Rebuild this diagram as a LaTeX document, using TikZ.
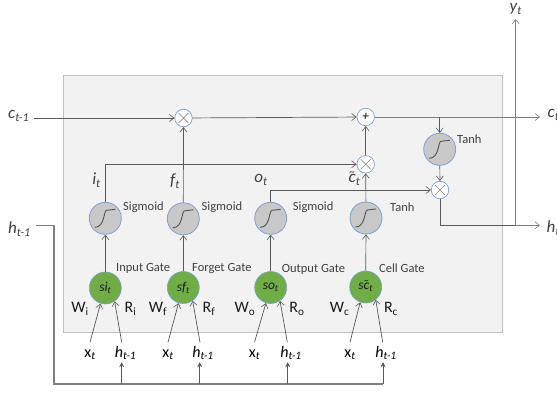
\documentclass[tikz,border=0pt]{standalone}
\usepackage{fontspec}
\setmainfont{Carlito}
\usetikzlibrary{arrows.meta}
\definecolor{panelfill}{HTML}{F2F2F2}
\definecolor{panelline}{HTML}{BFBFBF}
\definecolor{wire}{HTML}{595959}
\definecolor{wiregray}{HTML}{7F7F7F}
\definecolor{nodeedge}{HTML}{7C9FD6}
\definecolor{gategreen}{HTML}{70AD47}
\definecolor{sigfill}{HTML}{C8C8C8}
\definecolor{labelgray}{HTML}{404040}
\newcommand{\subt}[1]{\textsubscript{#1}}
\newcommand{\tildec}{{\ooalign{c\cr\hidewidth\raisebox{.4em}{\scalebox{.65}{\textasciitilde}}\hidewidth\cr}}}
\newcommand{\scurve}[1]{\draw[line width=0.9pt,color=labelgray!90] ([shift={(-10.5,9)}]#1.center) .. controls ([shift={(0,9)}]#1.center) and ([shift={(-2,-8.5)}]#1.center) .. ([shift={(1.5,-8)}]#1.center) -- ([shift={(10,-9)}]#1.center);}
\newcommand{\opx}[1]{\draw[wiregray,line width=0.5pt] ([shift={(-5,-5)}]#1.center) -- ([shift={(5,5)}]#1.center) ([shift={(-5,5)}]#1.center) -- ([shift={(5,-5)}]#1.center);}
\tikzset{
  x=1pt,y=-1pt,
  every node/.style={font=\fontsize{12.5}{14}\selectfont,inner sep=0pt,text=labelgray},
  wirearrow/.style={draw=wire,line width=0.7pt,-{Straight Barb[length=4.5pt,width=7pt,line width=0.6pt]}},
  thickwire/.style={draw=wiregray,line width=0.9pt,-{Straight Barb[length=4.5pt,width=7pt,line width=0.6pt]}},
  plainwire/.style={draw=wire,line width=0.7pt},
  bus/.style={draw=wiregray,line width=1.1pt},
  busarrow/.style={draw=wire,line width=0.7pt,-{Stealth[length=5pt,width=5pt]}},
  opnode/.style={circle,draw=nodeedge,fill=white,line width=0.7pt,minimum size=17.5pt},
  sigbox/.style={circle,draw=nodeedge,fill=sigfill,line width=0.8pt,minimum size=32pt},
  gatebox/.style={circle,draw=nodeedge,fill=gategreen,line width=0.6pt,minimum size=32pt,text=black!90,font=\fontsize{13.5}{14}\selectfont\itshape},
  varlabel/.style={font=\fontsize{17}{18}\selectfont\itshape,text=labelgray},
  weight/.style={font=\fontsize{16}{18}\selectfont,text=black!90,anchor=base},
  inlabel/.style={font=\fontsize{16}{18}\selectfont,text=black,anchor=base,text height=14.5pt,text depth=5pt},
}
\begin{document}
\begin{tikzpicture}
\useasboundingbox (0,0) rectangle (557,395);
\fill[white] (0,0) rectangle (557,395);
\draw[draw=panelline,fill=panelfill,line width=0.8pt] (63,75) rectangle (502.5,332);

% operators
\node[opnode] (m1) at (183.5,118) {};
\node[opnode] (pl) at (365.7,117) {\fontsize{13}{14}\selectfont\bfseries\itshape +};
\node[opnode] (m2) at (365.7,164.3) {};
\node[opnode] (m3) at (440,190) {};
\opx{m1}\opx{m2}\opx{m3}

% activation nodes
\node[sigbox] (sigi) at (105.3,218.3) {};
\node[sigbox] (sigf) at (183.3,218.8) {};
\node[sigbox] (sigo) at (270.7,218.3) {};
\node[sigbox] (tanc) at (366,218) {};
\node[sigbox] (tant) at (439.7,149.3) {};
\scurve{sigi}\scurve{sigf}\scurve{sigo}\scurve{tanc}\scurve{tant}

% gates
\node[gatebox] (si) at (105.3,288) {si\subt{t}};
\node[gatebox] (sf) at (183.3,287.5) {sf\subt{t}};
\node[gatebox] (so) at (270.7,287.5) {so\subt{t}};
\node[gatebox] (sc) at (365.7,287) {s\tildec\subt{t}};

% outer labels
\node[varlabel,anchor=west] (cin) at (8,116) {c\subt{t-1}};
\node[varlabel,anchor=west] (hin) at (8,229) {h\subt{t-1}};
\node[varlabel,anchor=west] (cout) at (547.5,115) {c\subt{t}};
\node[varlabel,anchor=west] (hout) at (546.5,228) {h\subt{t}};
\node[varlabel] (yout) at (515.7,9) {y\subt{t}};
\node[varlabel] at (96.5,180) {i\subt{t}};
\node[varlabel] at (175,181) {f\subt{t}};
\node[varlabel] at (261,180) {o\subt{t}};
\node[varlabel] at (354.5,180) {\tildec\subt{t}};

% text labels
\node[anchor=west] at (123,207) {Sigmoid};
\node[anchor=west] at (201.5,207) {Sigmoid};
\node[anchor=west] at (292.7,207.5) {Sigmoid};
\node[anchor=west] at (390,207) {Tanh};
\node[anchor=west] at (457,139) {Tanh};
\node[anchor=west] at (116,268.7) {Input Gate};
\node[anchor=west] at (192,268.7) {Forget Gate};
\node[anchor=west] at (281.7,269) {Output Gate};
\node[anchor=west] at (379,268.5) {Cell Gate};

\node[weight] at (80,313) {W\textsubscript{i}};
\node[weight] at (130.5,313) {R\textsubscript{i}};
\node[weight] at (158,313) {W\textsubscript{f}};
\node[weight] at (209,313) {R\textsubscript{f}};
\node[weight] at (245,313) {W\textsubscript{o}};
\node[weight] at (297,313) {R\textsubscript{o}};
\node[weight] at (339.5,313) {W\textsubscript{c}};
\node[weight] at (391,313) {R\textsubscript{c}};

% input labels (top of each box meets the connector start, bottom the bus arrow)
\node[inlabel] (xi) at (90,357) {x\textsubscript{\itshape t}};
\node[inlabel] (hi) at (125.5,357) {\itshape h\subt{t-1}};
\node[inlabel] (xf) at (168,357) {x\textsubscript{\itshape t}};
\node[inlabel] (hf) at (203,357) {\itshape h\subt{t-1}};
\node[inlabel] (xo) at (254.5,357) {x\textsubscript{\itshape t}};
\node[inlabel] (ho) at (291,357) {\itshape h\subt{t-1}};
\node[inlabel] (xc) at (350,357) {x\textsubscript{\itshape t}};
\node[inlabel] (hc) at (386,357) {\itshape h\subt{t-1}};

% gate inputs
\draw[wirearrow] (xi.north) -- (si.253);
\draw[wirearrow] ([xshift=-3.8pt]hi.north) -- (si.-55);
\draw[wirearrow] (xf.north) -- (sf.253);
\draw[wirearrow] ([xshift=-3pt]hf.north) -- (sf.-55);
\draw[wirearrow] (xo.north) -- (so.253);
\draw[wirearrow] ([xshift=-3.7pt]ho.north) -- (so.-55);
\draw[wirearrow] (xc.north) -- (sc.250);
\draw[wirearrow] ([xshift=-3.3pt]hc.north) -- (sc.-52);

% gate to activation
\draw[wirearrow] (si) -- (sigi);
\draw[wirearrow] (sf) -- (sigf);
\draw[wirearrow] (so) -- (sigo);
\draw[wirearrow] (sc) -- (tanc);

% activation to operators
\draw[wirearrow] (sigf) -- (m1);
\draw[wirearrow] (sigi.north) |- (m2.west);
\draw[wirearrow] (sigo.north) |- (m3.west);
\draw[wirearrow] (tanc) -- (m2);
\draw[wirearrow] (m2) -- (pl);
\draw[wirearrow] (tant) -- (m3);

% cell state
\coordinate (cstart) at (34,118);
\draw[wirearrow] (cstart) -- (m1);
\draw[wirearrow] (m1) -- (pl);
\coordinate (cend) at (540,117);
\draw[thickwire] (pl) -- (cend);
\coordinate (ctap) at (tant.north |- pl);
\draw[wirearrow] (ctap) -- (tant);

% hidden output
\coordinate (hend) at (540,225.3);
\coordinate (ytap) at (515.7,225.3);
\coordinate (yend) at (515.7,19);
\draw[plainwire] (m3.south) |- (ytap);
\draw[thickwire] (ytap) -- (hend);
\draw[draw=wiregray,line width=1.3pt,-{Straight Barb[length=4.5pt,width=7pt,line width=0.6pt]}] (ytap) -- (yend);

% feedback bus
\coordinate (busl) at (54,384);
\coordinate (busr) at (383,384);
\coordinate (hstart) at (36,225.7);
\coordinate (b1) at (121.7,384);
\coordinate (b2) at (199.7,384);
\coordinate (b3) at (287.7,384);
\draw[bus] (hstart) -- (54,225.7) -- (busl) -- (busr);
\draw[busarrow] (b1) -- (b1 |- hi.south);
\draw[busarrow] (b2) -- (b2 |- hf.south);
\draw[busarrow] (b3) -- (b3 |- ho.south);
\draw[busarrow] (busr) -- (busr |- hc.south);
\end{tikzpicture}
\end{document}
